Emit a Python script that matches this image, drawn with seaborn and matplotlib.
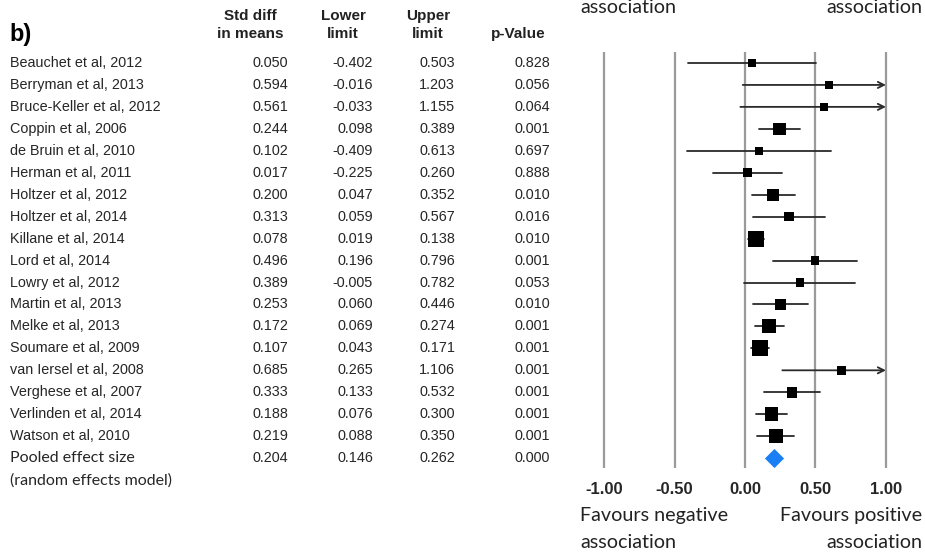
import matplotlib
matplotlib.use("Agg")
import matplotlib.pyplot as plt
import matplotlib.transforms as mtransforms
import seaborn as sns
import pandas as pd
import numpy as np

studies = ["Beauchet et al, 2012", "Berryman et al, 2013", "Bruce-Keller et al, 2012",
           "Coppin et al, 2006", "de Bruin et al, 2010", "Herman et al, 2011",
           "Holtzer et al, 2012", "Holtzer et al, 2014", "Killane et al, 2014",
           "Lord et al, 2014", "Lowry et al, 2012", "Martin et al, 2013",
           "Melke et al, 2013", "Soumare et al, 2009", "van Iersel et al, 2008",
           "Verghese et al, 2007", "Verlinden et al, 2014", "Watson et al, 2010"]
smd = [0.050, 0.594, 0.561, 0.244, 0.102, 0.017, 0.200, 0.313, 0.078,
       0.496, 0.389, 0.253, 0.172, 0.107, 0.685, 0.333, 0.188, 0.219]
lower = [-0.402, -0.016, -0.033, 0.098, -0.409, -0.225, 0.047, 0.059, 0.019,
         0.196, -0.005, 0.060, 0.069, 0.043, 0.265, 0.133, 0.076, 0.088]
upper = [0.503, 1.203, 1.155, 0.389, 0.613, 0.260, 0.352, 0.567, 0.138,
         0.796, 0.782, 0.446, 0.274, 0.171, 1.106, 0.532, 0.300, 0.350]
pvals = [0.828, 0.056, 0.064, 0.001, 0.697, 0.888, 0.010, 0.016, 0.010,
         0.001, 0.053, 0.010, 0.001, 0.001, 0.001, 0.001, 0.001, 0.001]
# relative study weights
weights = [2.0, 2.0, 2.0, 5.5, 2.0, 3.0, 5.0, 3.0, 9.5,
           2.5, 2.2, 4.5, 7.0, 9.5, 2.3, 4.0, 7.0, 6.5]
pooled_label = ["Pooled effect size", "(random effects model)"]
pooled = [0.204, 0.146, 0.262, 0.000]
ticks = [-1.0, -0.5, 0.0, 0.5, 1.0]
tick_labels = ["-1.00", "-0.50", "0.00", "0.50", "1.00"]
headers_top = ["Std diff", "Lower", "Upper", ""]
headers_bot = ["in means", "limit", "limit", "p-Value"]
favours_neg = ["Favours negative", "association"]
favours_pos = ["Favours positive", "association"]

sns.set_theme(style="white")
plt.rcParams['font.family'] = ['Liberation Sans', 'DejaVu Sans']

W, H = 925, 552
fig = plt.figure(figsize=(W / 100, H / 100), dpi=100)

def fx(px):
    return px / W

def fy(py):
    return 1 - py / H

# forest axes: pixel box x 590..900, y 52..468
ax = fig.add_axes([fx(590), fy(468), fx(900) - fx(590), (468 - 52) / H])
n = len(studies)
rows = np.arange(n)
df = pd.DataFrame({"study": studies, "smd": smd, "lower": lower, "upper": upper,
                   "p": pvals, "weight": weights, "row": rows})

ax.set_xlim(-1.1, 1.1)
ax.set_ylim(n + 0.45, -0.5)
for t in ticks:
    ax.axvline(t, color="#9a9a9a", lw=1.6, zorder=1)

clip_hi = max(ticks)
for _, r in df.iterrows():
    hi = min(r["upper"], clip_hi)
    if r["upper"] > clip_hi:
        ax.annotate("", xy=(hi, r["row"]), xytext=(r["lower"], r["row"]),
                    arrowprops=dict(arrowstyle="->", lw=1.3, color="#2a2a2a",
                                    shrinkA=0, shrinkB=0, mutation_scale=11),
                    zorder=2)
    else:
        ax.plot([r["lower"], hi], [r["row"], r["row"]], color="#2a2a2a", lw=1.3, zorder=2)

sns.scatterplot(data=df, x="smd", y="row", size="weight", sizes=(33, 135),
                marker="s", color="black", linewidth=0, legend=False, ax=ax, zorder=3)
ax.scatter([pooled[0]], [n], marker="D", s=95, color="#1a7ff5", linewidth=0, zorder=3)

ax.set_xticks(ticks)
ax.set_xticklabels(tick_labels, fontweight="bold", fontsize=12)
ax.tick_params(axis="x", length=0, pad=10)
ax.set_yticks([])
ax.set_xlabel("")
ax.set_ylabel("")
for s in ax.spines.values():
    s.set_visible(False)

# table text
tr = mtransforms.blended_transform_factory(fig.transFigure, ax.transData)
fs = 10.4
txt_col = "#262626"
col_right = [fx(288), fx(373), fx(455), fx(550)]
for _, r in df.iterrows():
    y = r["row"]
    fig.text(fx(10), y, r["study"], transform=tr, fontsize=fs, va="center", ha="left", color=txt_col)
    vals = [r["smd"], r["lower"], r["upper"], r["p"]]
    for xr, v in zip(col_right, vals):
        fig.text(xr, y, f"{v:.3f}", transform=tr, fontsize=fs, va="center", ha="right", color=txt_col)

lato = ["Lato", "DejaVu Sans"]
fig.text(fx(10), n, pooled_label[0], transform=tr, fontsize=11.5, va="center", ha="left",
         color=txt_col, family=lato)
fig.text(fx(10), n + 1.0, pooled_label[1], transform=tr, fontsize=11.5, va="center", ha="left",
         color=txt_col, family=lato)
for xr, v in zip(col_right, pooled):
    fig.text(xr, n, f"{v:.3f}", transform=tr, fontsize=fs, va="center", ha="right", color=txt_col)

# headers
hdr_x = [fx(250), fx(343), fx(428), fx(518)]
for hx, ht, hb in zip(hdr_x, headers_top, headers_bot):
    if ht:
        fig.text(hx, fy(16), ht, fontsize=11, fontweight="bold", ha="center", va="center", color="#222")
    fig.text(hx, fy(34), hb, fontsize=11, fontweight="bold", ha="center", va="center", color="#222")
fig.text(fx(9), fy(35), "b)", fontsize=17, fontweight="bold", ha="left", va="center", color="black")

# favours labels
for line, py in zip(favours_neg, [516, 542]):
    fig.text(fx(580), fy(py), line, fontsize=14.2, ha="left", va="center", family=lato, color="#222")
for line, py in zip(favours_pos, [516, 542]):
    fig.text(fx(922), fy(py), line, fontsize=14.2, ha="right", va="center", family=lato, color="#222")
fig.text(fx(580), fy(13), "association", fontsize=14.2, ha="left", va="baseline", family=lato, color="#222")
fig.text(fx(922), fy(13), "association", fontsize=14.2, ha="right", va="baseline", family=lato, color="#222")

fig.savefig("out.png", dpi=100)
